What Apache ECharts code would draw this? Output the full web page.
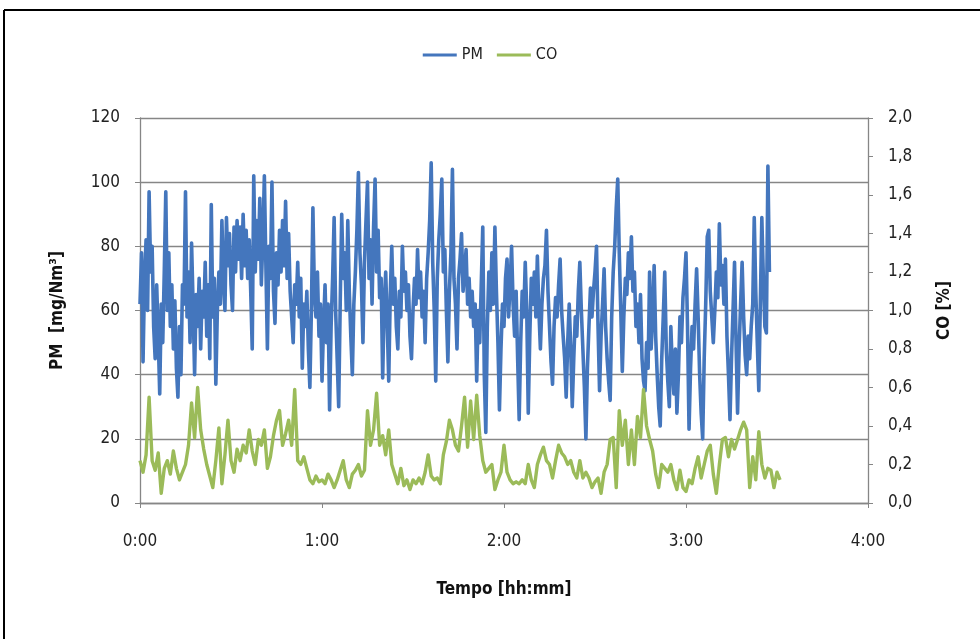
<!DOCTYPE html>
<html>
<head>
<meta charset="utf-8">
<script src="https://cdn.jsdelivr.net/npm/echarts@6/dist/echarts.min.js"></script>
<style>html,body{margin:0;padding:0;background:#fff;}#c{width:980px;height:639px;}</style>
</head>
<body>
<div id="c"></div>
<script>
// PM sampled every 0.5 min from 0:00
const pmStep = 0.5;
const pmValues = [
62,78,44,70,82,60,97,72,80,55,
45,68,52,34,62,50,72,97,60,78,
55,68,48,63,42,33,55,40,68,62,
97,58,72,50,81,62,40,65,55,70,
48,66,58,75,52,68,45,93,58,70,
37,60,72,62,88,70,60,89,74,84,
68,60,86,72,88,76,86,70,90,74,
85,70,82,66,48,102,72,88,76,95,
68,82,102,74,48,80,70,100,66,56,
78,68,85,72,88,74,94,70,84,66,
58,50,68,62,75,58,70,42,62,55,
66,48,36,60,92,65,58,72,52,62,
38,55,68,50,62,29,55,70,89,60,
45,30,62,90,70,78,60,88,66,52,
40,62,72,85,103,78,68,50,75,88,
100,70,82,62,86,101,72,85,64,70,
39,62,72,56,38,65,80,62,70,55,
48,66,58,80,66,72,60,68,52,45,
60,70,62,79,64,72,58,66,50,70,
78,88,106,75,60,38,70,82,90,101,
72,79,60,44,66,78,104,70,62,48,
70,76,84,66,72,79,62,70,58,66,
55,62,38,60,50,68,86,40,22,55,
72,60,78,62,86,66,50,29,48,62,
55,70,76,58,68,80,62,52,66,45,
26,50,66,58,75,60,28,52,70,62,
72,58,77,60,48,62,70,74,85,66,
55,44,37,55,64,58,68,76,60,52,
45,33,50,62,48,30,45,58,52,66,
75,60,48,36,20,42,55,67,58,66,
72,80,55,35,52,62,73,55,45,38,
32,58,72,80,92,101,78,60,41,58,
70,65,78,70,83,66,72,55,62,50,
65,45,38,35,50,42,72,48,58,74,
52,40,30,24,45,58,72,48,38,30,
55,42,34,48,28,40,58,50,64,70,
78,55,23,42,55,48,62,73,58,40,
28,20,45,62,83,85,66,58,50,60,
72,64,87,68,74,62,76,52,40,26,
45,60,75,50,28,48,62,75,58,46,
40,52,45,55,62,89,66,50,35,62,
89,70,55,53,105,72
];
// CO sampled every 1 min from 0:00
const coStep = 1;
const coValues = [
0.22,0.16,0.25,0.55,0.22,0.17,0.26,0.05,0.18,0.22,
0.15,0.27,0.18,0.12,0.16,0.20,0.30,0.52,0.34,0.60,
0.38,0.28,0.20,0.14,0.08,0.22,0.39,0.10,0.25,0.43,
0.22,0.16,0.28,0.22,0.30,0.26,0.38,0.27,0.20,0.33,
0.30,0.38,0.18,0.24,0.35,0.43,0.48,0.30,0.36,0.43,
0.30,0.59,0.22,0.20,0.24,0.18,0.12,0.10,0.14,0.11,
0.12,0.10,0.15,0.12,0.08,0.12,0.17,0.22,0.12,0.08,
0.15,0.17,0.20,0.14,0.17,0.48,0.30,0.38,0.57,0.30,
0.35,0.25,0.38,0.20,0.15,0.10,0.18,0.09,0.12,0.07,
0.12,0.10,0.13,0.10,0.16,0.25,0.14,0.12,0.13,0.10,
0.25,0.32,0.43,0.38,0.30,0.27,0.40,0.55,0.29,0.53,
0.33,0.56,0.35,0.22,0.16,0.18,0.20,0.07,0.12,0.16,
0.30,0.16,0.12,0.10,0.11,0.10,0.12,0.10,0.20,0.12,
0.08,0.20,0.25,0.29,0.22,0.20,0.13,0.22,0.30,0.26,
0.24,0.20,0.22,0.16,0.13,0.22,0.13,0.16,0.13,0.08,
0.11,0.13,0.05,0.16,0.20,0.33,0.34,0.08,0.48,0.30,
0.43,0.20,0.38,0.20,0.45,0.34,0.59,0.40,0.33,0.27,
0.15,0.08,0.20,0.18,0.16,0.20,0.12,0.07,0.17,0.08,
0.06,0.12,0.10,0.18,0.24,0.13,0.20,0.27,0.30,0.15,
0.05,0.20,0.33,0.34,0.24,0.33,0.28,0.33,0.38,0.42,
0.38,0.08,0.24,0.12,0.37,0.20,0.13,0.18,0.17,0.08,
0.16,0.12
];
const xTicks = ['0:00','1:00','2:00','3:00','4:00'];
const seriesNames = ['PM','CO'];

const pmData = pmValues.map((v,i)=>[i*pmStep, v]);
const coData = coValues.map((v,i)=>[i*coStep, v]);

const FONT = "'Liberation Sans Narrow','DejaVu Sans Condensed','Open Sans',sans-serif";
const chart = echarts.init(document.getElementById('c'));
chart.setOption({
  animation:false,
  backgroundColor:'#fff',
  textStyle:{fontFamily:FONT},
  legend:{
    top:42, left:'center', itemWidth:34, itemHeight:3, itemGap:14,
    textStyle:{fontSize:16,color:'#222',fontFamily:FONT},
    data:[{name:seriesNames[0],icon:'rect'},{name:seriesNames[1],icon:'rect'}]
  },
  grid:{left:140,right:112,top:118,bottom:136},
  xAxis:{
    type:'value',min:0,max:240,interval:60,
    name:'Tempo [hh:mm]',nameLocation:'middle',nameGap:78,
    nameTextStyle:{fontSize:17,fontWeight:'bold',color:'#111',fontFamily:FONT},
    axisLine:{lineStyle:{color:'#868686',width:1.3}},
    axisTick:{show:true,length:5,lineStyle:{color:'#868686'}},
    axisLabel:{fontSize:17,color:'#222',margin:30,fontFamily:FONT,
      formatter:(v)=>xTicks[Math.round(v/60)]},
    splitLine:{show:false}
  },
  yAxis:[{
    type:'value',min:0,max:120,interval:20,
    name:'PM  [mg/Nm³]',nameLocation:'middle',nameGap:74,nameRotate:90,
    nameTextStyle:{fontSize:17,fontWeight:'bold',color:'#111',fontFamily:FONT},
    axisLine:{show:true,lineStyle:{color:'#868686',width:1.3}},
    axisTick:{show:true,length:5,lineStyle:{color:'#868686'}},
    axisLabel:{fontSize:17,color:'#222',margin:20,fontFamily:FONT},
    splitLine:{show:true,lineStyle:{color:'#868686',width:1.3}}
  },{
    type:'value',min:0,max:2,interval:0.2,
    name:'CO [%]',nameLocation:'middle',nameGap:68,nameRotate:90,
    nameTextStyle:{fontSize:17,fontWeight:'bold',color:'#111',fontFamily:FONT},
    axisLine:{show:true,lineStyle:{color:'#868686',width:1.3}},
    axisTick:{show:true,length:5,lineStyle:{color:'#868686'}},
    axisLabel:{fontSize:17,color:'#222',margin:20,fontFamily:FONT,
      formatter:(v)=>v.toFixed(1).replace('.',',')},
    splitLine:{show:false}
  }],
  series:[{
    name:seriesNames[0],type:'line',yAxisIndex:0,data:pmData,
    symbol:'none',lineStyle:{color:'#4476BD',width:3.6,join:'round'},itemStyle:{color:'#4476BD'}
  },{
    name:seriesNames[1],type:'line',yAxisIndex:1,data:coData,
    symbol:'none',lineStyle:{color:'#9BBB59',width:3.4,join:'round'},itemStyle:{color:'#9BBB59'}
  }],
  graphic:[
    {type:'line',shape:{x1:4,y1:10,x2:980,y2:10},style:{stroke:'#000',lineWidth:2}},
    {type:'line',shape:{x1:4,y1:10,x2:4,y2:639},style:{stroke:'#000',lineWidth:2}}
  ]
});
</script>
</body>
</html>
